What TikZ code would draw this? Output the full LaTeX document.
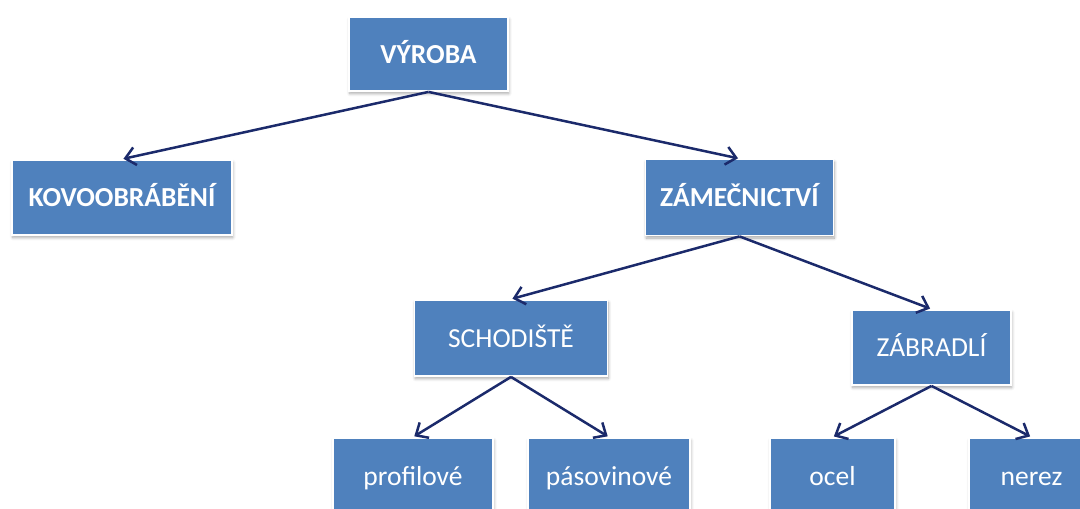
\documentclass[tikz,border=0pt]{standalone}
\usepackage{fontspec}
\setmainfont{Carlito}
\usetikzlibrary{arrows.meta,shadows.blur}
\definecolor{boxblue}{HTML}{4F81BD}
\definecolor{linknavy}{HTML}{1B2A6B}
\tikzset{
  box/.style={rectangle, fill=boxblue, draw=white, line width=1.8pt,
    inner sep=0pt, text=white, font=\fontsize{27.5}{30}\selectfont,
    text height=20pt, text depth=2pt,
    blur shadow={shadow xshift=0.8pt, shadow yshift=-2.5pt,
      shadow blur radius=3pt, shadow blur steps=6, shadow opacity=35}},
  headbox/.style={box, font=\fontsize{27.5}{30}\selectfont\bfseries},
  link/.style={draw=linknavy, line width=2.5pt,
    -{Straight Barb[length=10pt,width=18pt,line width=2.5pt]}, shorten >=1.5pt}
}
\begin{document}
\begin{tikzpicture}[x=1pt,y=-1pt]
  \useasboundingbox (0,0) rectangle (1080,509);
  \clip (0,0) rectangle (1080,509);
  % hierarchy levels
  \node[headbox, minimum width=159pt, minimum height=74pt] (vyroba) at (428.5,54) {VÝROBA};
  \node[headbox, minimum width=220pt, minimum height=75pt] (kovo) at (122,197.5) {KOVOOBRÁBĚNÍ};
  \node[headbox, minimum width=188pt, minimum height=76pt] (zamec) at (739.5,197.5) {ZÁMEČNICTVÍ};
  \node[box, minimum width=193pt, minimum height=76pt] (schod) at (511,338) {SCHODIŠTĚ};
  \node[box, minimum width=159pt, minimum height=75pt] (zabr) at (931.5,347.5) {ZÁBRADLÍ};
  \node[box, minimum width=160pt, minimum height=76pt] (profil) at (413,476) {profilové};
  \node[box, minimum width=162pt, minimum height=76pt] (pasov) at (609,476) {pásovinové};
  \node[box, minimum width=125pt, minimum height=76pt] (ocel) at (832.5,476) {ocel};
  \node[box, minimum width=125pt, minimum height=76pt] (nerez) at (1031.5,476) {nerez};
  % connectors
  \draw[link] (vyroba.south) -- (kovo.north);
  \draw[link] (vyroba.south) -- (zamec.north);
  \draw[link] (zamec.south) -- (schod.north);
  \draw[link] (zamec.south) -- (zabr.north);
  \draw[link] (schod.south) -- (profil.north);
  \draw[link] (schod.south) -- (pasov.north);
  \draw[link] (zabr.south) -- (ocel.north);
  \draw[link] (zabr.south) -- (nerez.north);
\end{tikzpicture}
\end{document}
